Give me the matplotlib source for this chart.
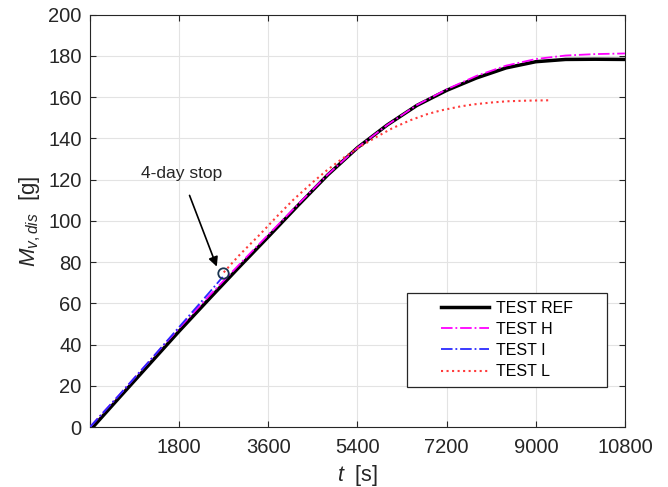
import matplotlib
matplotlib.use('Agg')
import matplotlib.pyplot as plt
from matplotlib.patches import Rectangle

plt.rcParams['font.family'] = ['Liberation Sans', 'DejaVu Sans']
plt.rcParams['mathtext.fontset'] = 'custom'
plt.rcParams['mathtext.rm'] = 'Liberation Sans'
plt.rcParams['mathtext.it'] = 'Liberation Sans:italic'

# Data
t_ref = [60, 600, 1200, 1800, 2400, 3000, 3600, 4200, 4800, 5400, 6000, 6600,
         7200, 7800, 8400, 9000, 9600, 10200, 10800]
m_ref = [0, 14.5, 30.5, 46.5, 62, 77.3, 92.3, 107.5, 122.3, 135.5, 146.5, 156,
         163.3, 169.3, 174.2, 177.2, 178.3, 178.4, 178.3]

t_h = [0, 600, 1200, 1800, 2400, 3000, 3600, 4200, 4800, 5400, 6000, 6600,
       7200, 7800, 8400, 9000, 9600, 10200, 10800]
m_h = [0, 15.8, 32, 48, 63.5, 78.5, 93.3, 108, 122.5, 135.5, 146.5, 156.2,
       163.8, 170.3, 175.3, 178.5, 180.2, 180.9, 181.2]

t_i = [0, 600, 1200, 1800, 2400, 2680]
m_i = [0, 15.8, 32, 48.5, 65, 72.8]

t_l = [2700, 3000, 3434, 3800, 4108, 4500, 4781, 5100, 5400, 5790, 6100, 6465,
       6800, 7071, 7475, 7744, 8100, 8418, 8800, 9293]
m_l = [75, 83, 93.5, 102.8, 110.3, 118.8, 124.5, 130.3, 135.2, 140.8, 144.9, 148.8,
       151.7, 153.5, 155.5, 156.5, 157.4, 158, 158.3, 158.5]

stop_t, stop_m = 2680, 74.5

fig = plt.figure(figsize=(6.68, 4.87), dpi=100)
ax = fig.add_axes([0.1347, 0.1232, 0.8009, 0.8466])

ax.plot(t_ref, m_ref, color='black', lw=2.5, label='TEST REF', zorder=3)
ax.plot(t_h, m_h, color='#ff00ff', lw=1.3, linestyle='-.', label='TEST H', zorder=4)
ax.plot(t_i, m_i, color='#2a2aff', lw=1.3, linestyle='-.', label='TEST I', zorder=4)
ax.plot(t_l, m_l, color='#ff3b3b', lw=1.5, linestyle=':', label='TEST L', zorder=4)

ax.plot([stop_t], [stop_m], marker='o', markersize=7.5, markerfacecolor='none',
        markeredgecolor='#1b3550', markeredgewidth=1.3, linestyle='none', zorder=5)

ax.annotate('4-day stop', xy=(2560, 77.8), xytext=(1840, 123),
            fontsize=12.5, ha='center', va='center', color='#262626',
            arrowprops=dict(arrowstyle='-|>', color='black', lw=1.2,
                            mutation_scale=14, shrinkA=9, shrinkB=0))

ax.set_xlim(0, 10800)
ax.set_ylim(0, 200)
ax.set_xticks([0, 1800, 3600, 5400, 7200, 9000, 10800])
ax.set_xticklabels(['', '1800', '3600', '5400', '7200', '9000', '10800'])
ax.set_yticks(range(0, 201, 20))

ax.grid(True, color='#e3e3e3', lw=0.8)
ax.set_axisbelow(True)
ax.tick_params(direction='in', length=4, width=0.8, color='#262626',
               top=True, right=True, labelsize=14.5, labelcolor='#262626')
ax.tick_params(axis='x', pad=8)
ax.tick_params(axis='y', pad=6)
for s in ax.spines.values():
    s.set_color('#262626')
    s.set_linewidth(0.8)

ax.set_xlabel(r'$t$  [s]', fontsize=15.5, color='#262626', labelpad=4)
ax.set_ylabel(r'$M_{v,dis}$  [g]', fontsize=16, color='#262626', labelpad=4)

# legend box drawn separately to match the padded MATLAB style
ax.add_patch(Rectangle((0.593, 0.097), 0.374, 0.228, transform=ax.transAxes,
                       facecolor='white', edgecolor='#262626', lw=0.9, zorder=6))
leg = ax.legend(loc='center', bbox_to_anchor=(0.779, 0.211), frameon=False,
                fontsize=11.5, handlelength=3.0, handletextpad=0.45,
                labelspacing=0.38, borderpad=0.2)
leg.set_zorder(7)

fig.savefig('out.png', dpi=100)
